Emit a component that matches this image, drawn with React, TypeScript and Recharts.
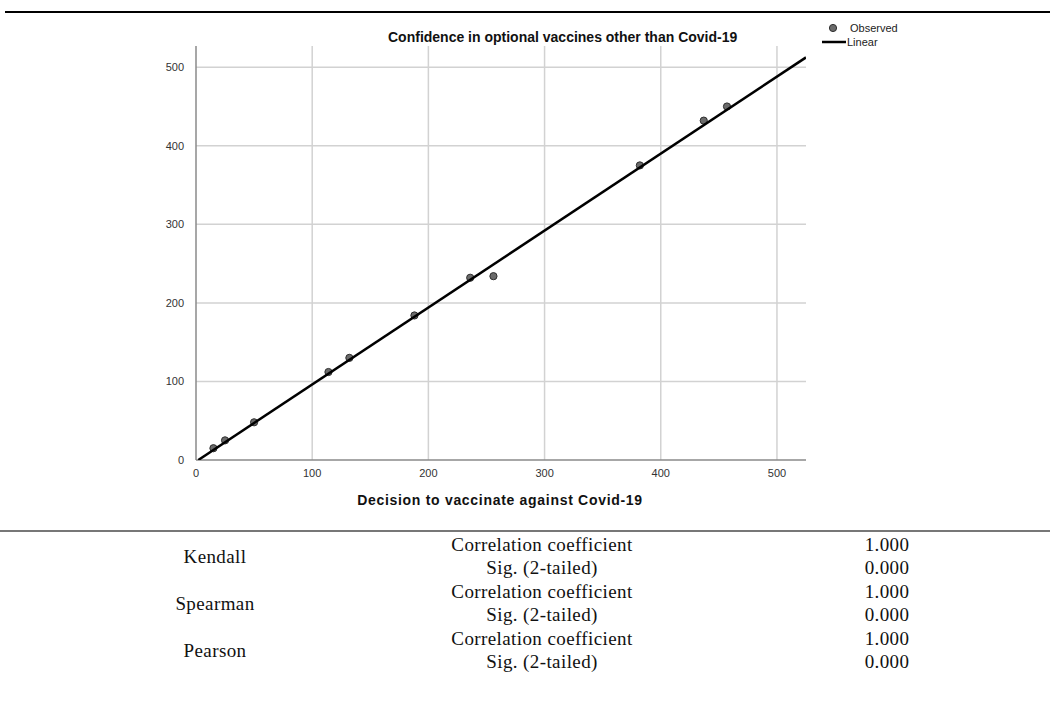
import { ComposedChart, CartesianGrid, Scatter, XAxis, YAxis } from "recharts";

const decisionX = [15, 25, 50, 114, 132, 188, 236, 256, 382, 437, 457];
const confidenceY = [15, 25, 48, 112, 130, 184, 232, 234, 375, 432, 450];

// endpoints of the fitted line
const fitX = [2, 525];
const fitY = [0, 512.5];

const xTicks = [0, 100, 200, 300, 400, 500];
const yTicks = [0, 100, 200, 300, 400, 500];

const methods = ["Kendall", "Spearman", "Pearson"];
const statLabels = ["Correlation coefficient", "Sig. (2-tailed)"];
const coefficients = ["1.000", "1.000", "1.000"];
const significance = ["0.000", "0.000", "0.000"];

const observed = decisionX.map((x, i) => ({ x, y: confidenceY[i] }));
const linear = fitX.map((x, i) => ({ x, y: fitY[i] }));

const sans = "'Liberation Sans', Arial, sans-serif";
const serif = "'Liberation Serif', 'Times New Roman', serif";

const Dot = (props: any) => (
  <circle
    cx={props.cx}
    cy={props.cy}
    r={3.6}
    fill="#6b6b6b"
    stroke="#2e2e2e"
    strokeWidth={1}
  />
);

const LegendBox = () => (
  <svg
    width={110}
    height={36}
    style={{ position: "absolute", left: 820, top: 21, overflow: "visible" }}
  >
    <circle cx={13} cy={7} r={3.6} fill="#6b6b6b" stroke="#2e2e2e" />
    <text x={30} y={11} fontSize={11} fontFamily={sans} fill="#222">
      Observed
    </text>
    <line x1={2} y1={21} x2={26} y2={21} stroke="#000" strokeWidth={2.5} />
    <text x={27} y={25} fontSize={11} fontFamily={sans} fill="#222">
      Linear
    </text>
  </svg>
);

const cell = (left: number, width: number, top: number) => ({
  position: "absolute" as const,
  left,
  width,
  top,
  textAlign: "center" as const,
  fontFamily: serif,
  fontSize: 19,
  letterSpacing: 0.4,
  color: "#111",
  lineHeight: "22px",
});

export default function App() {
  const rowY = [545, 568, 592, 615, 639, 662];

  return (
    <div
      style={{
        position: "absolute",
        left: 0,
        top: 0,
        width: 1050,
        height: 716,
        background: "#fff",
        overflow: "hidden",
      }}
    >
      <div
        style={{
          position: "absolute",
          left: 5,
          right: 0,
          top: 11,
          height: 2,
          background: "#000",
        }}
      />
      <div
        style={{
          position: "absolute",
          left: 388,
          top: 29,
          fontFamily: sans,
          fontWeight: "bold",
          fontSize: 14,
          color: "#111",
          whiteSpace: "nowrap",
        }}
      >
        Confidence in optional vaccines other than Covid-19
      </div>

      <div style={{ position: "absolute", left: 0, top: 0 }}>
        <ComposedChart
          width={1050}
          height={530}
          margin={{ top: 46, right: 244, bottom: 50, left: 156 }}
        >
          <CartesianGrid
            stroke="#d2d2d2"
            strokeWidth={1.5}
            verticalValues={xTicks.slice(1)}
            horizontalValues={yTicks.slice(1)}
          />
          <XAxis
            type="number"
            dataKey="x"
            domain={[0, 525]}
            ticks={xTicks}
            height={20}
            tickLine={false}
            stroke="#8a8a8a"
            strokeWidth={1.5}
            tickMargin={3}
            tick={{ fontSize: 11, fontFamily: sans, fill: "#333" }}
            allowDataOverflow
          />
          <YAxis
            type="number"
            dataKey="y"
            domain={[0, 527]}
            ticks={yTicks}
            width={40}
            tickLine={false}
            stroke="#8a8a8a"
            strokeWidth={1.5}
            tickMargin={6}
            tick={{ fontSize: 11, fontFamily: sans, fill: "#333" }}
            allowDataOverflow
          />
          <Scatter
            name="Observed"
            data={observed}
            shape={<Dot />}
            isAnimationActive={false}
          />
          <Scatter
            name="Linear"
            data={linear}
            line={{ stroke: "#000", strokeWidth: 2.5 }}
            shape={() => <g />}
            isAnimationActive={false}
          />
        </ComposedChart>
      </div>

      <LegendBox />

      <div
        style={{
          position: "absolute",
          left: 0,
          width: 1000,
          top: 492,
          textAlign: "center",
          fontFamily: sans,
          fontWeight: "bold",
          fontSize: 14,
          letterSpacing: 0.7,
          color: "#111",
        }}
      >
        Decision to vaccinate against Covid-19
      </div>

      <div
        style={{
          position: "absolute",
          left: 0,
          width: 1050,
          top: 530,
          height: 1.5,
          background: "#777",
        }}
      />

      {methods.map((m, i) => (
        <div key={m}>
          <div style={cell(115, 200, (rowY[i * 2] + rowY[i * 2 + 1]) / 2 - 11)}>
            {m}
          </div>
          {statLabels.map((s, j) => (
            <div key={s} style={cell(392, 300, rowY[i * 2 + j] - 11)}>
              {s}
            </div>
          ))}
          {[coefficients[i], significance[i]].map((v, j) => (
            <div key={j} style={cell(787, 200, rowY[i * 2 + j] - 11)}>
              {v}
            </div>
          ))}
        </div>
      ))}
    </div>
  );
}
